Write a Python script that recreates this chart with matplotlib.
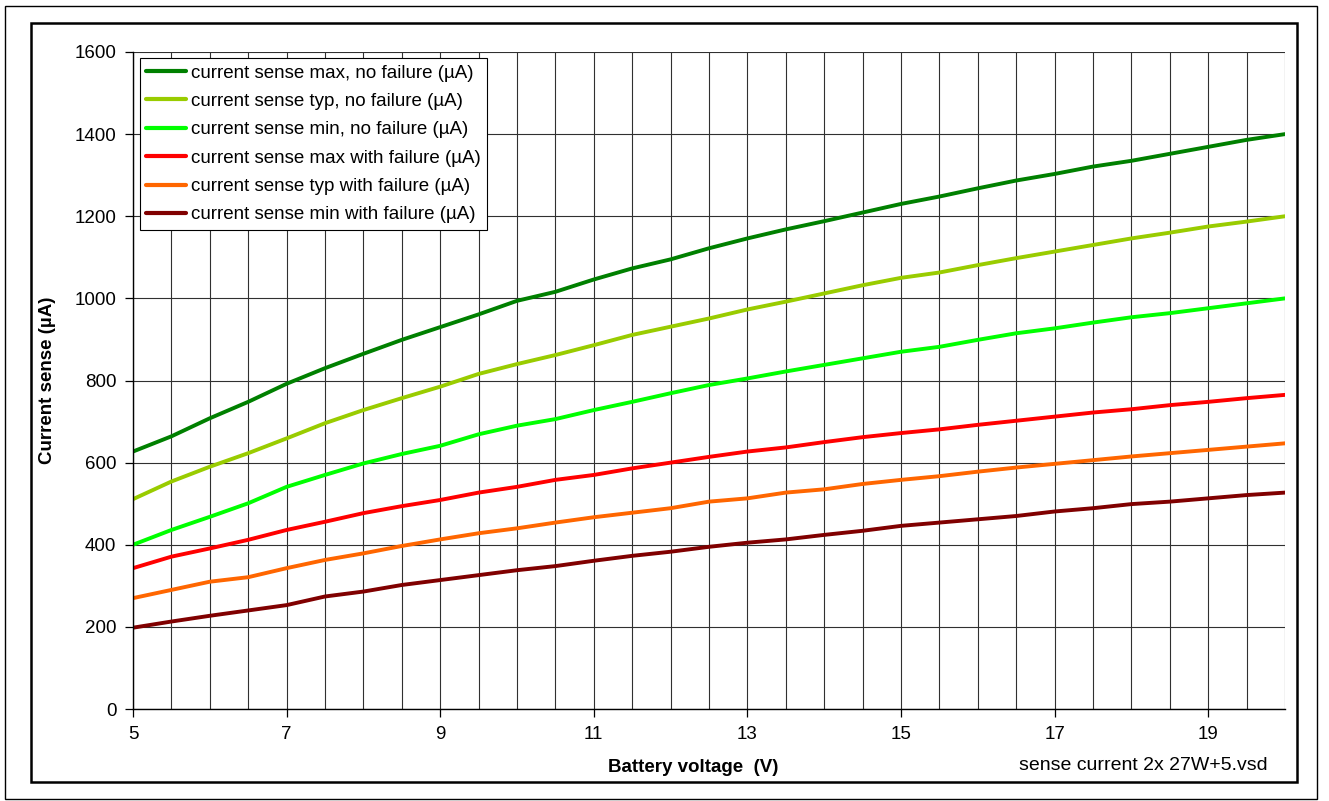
import numpy as np
import matplotlib
matplotlib.use("Agg")
import matplotlib.pyplot as plt
from matplotlib.patches import Rectangle
from matplotlib.ticker import MultipleLocator

plt.rcParams['font.family'] = ['Liberation Sans', 'DejaVu Sans']

# battery voltage (V), 0.5 V steps
volts = np.arange(5.0, 20.01, 0.5)

# current sense (uA)
max_nofail = [627, 664, 708, 748, 792, 830, 865, 899, 930, 961, 994, 1016, 1046, 1073, 1095, 1122,
              1146, 1168, 1188, 1209, 1230, 1248, 1268, 1287, 1303, 1321, 1335, 1352, 1369, 1386, 1400]
typ_nofail = [511, 554, 590, 623, 659, 696, 728, 757, 785, 816, 840, 862, 886, 911, 931, 951,
              973, 992, 1012, 1032, 1050, 1063, 1081, 1098, 1114, 1130, 1146, 1160, 1175, 1187, 1200]
min_nofail = [400, 436, 468, 501, 541, 570, 598, 621, 641, 669, 690, 706, 728, 748, 769, 789,
              805, 822, 838, 854, 870, 882, 899, 915, 927, 941, 954, 964, 976, 988, 1000]
max_fail = [343, 371, 391, 412, 436, 456, 477, 494, 509, 527, 541, 558, 570, 586, 600, 614,
            627, 637, 650, 662, 672, 681, 692, 702, 712, 722, 730, 740, 748, 757, 765]
typ_fail = [270, 290, 310, 321, 343, 363, 379, 397, 413, 428, 440, 454, 467, 478, 489, 505,
            513, 527, 535, 548, 558, 567, 578, 588, 597, 606, 615, 623, 631, 639, 647]
min_fail = [198, 213, 227, 240, 253, 274, 286, 302, 314, 326, 338, 348, 361, 373, 383, 395,
            405, 413, 424, 434, 446, 454, 462, 470, 481, 489, 499, 505, 513, 521, 527]

series = [
    ("current sense max, no failure (\u00b5A)", max_nofail, "#008000"),
    ("current sense typ, no failure (\u00b5A)", typ_nofail, "#99CC00"),
    ("current sense min, no failure (\u00b5A)", min_nofail, "#00FF00"),
    ("current sense max with failure (\u00b5A)", max_fail, "#FF0000"),
    ("current sense typ with failure (\u00b5A)", typ_fail, "#FF6600"),
    ("current sense min with failure (\u00b5A)", min_fail, "#800000"),
]

W, H = 1329, 801
FS = 13.5
fig = plt.figure(figsize=(W / 100, H / 100), dpi=100)

# outer and inner frames (pixel coords -> figure fraction)
def frame(x0, y0, x1, y1, lw):
    fig.patches.append(Rectangle((x0 / W, 1 - y1 / H), (x1 - x0) / W, (y1 - y0) / H,
                                 transform=fig.transFigure, fill=False,
                                 edgecolor="black", linewidth=lw))

frame(5, 6, 1317, 799, 1.0)
frame(31, 23, 1297, 782, 1.8)

ax = fig.add_axes([133 / W, 1 - 709 / H, (1285 - 133) / W, (709 - 52) / H])

for label, vals, col in series:
    ax.plot(volts, vals, color=col, linewidth=2.8, label=label, solid_capstyle="round")

ax.set_xlim(5, 20)
ax.set_ylim(0, 1600)
ax.xaxis.set_minor_locator(MultipleLocator(0.5))
ax.yaxis.set_major_locator(MultipleLocator(200))
ax.set_xticks([5, 7, 9, 11, 13, 15, 17, 19])

ax.grid(True, which="both", axis="x", color="#303030", linewidth=0.8)
ax.grid(True, which="major", axis="y", color="#303030", linewidth=0.8)
ax.set_axisbelow(True)

for s in ["top", "right"]:
    ax.spines[s].set_visible(False)
ax.spines["left"].set_linewidth(1.0)
ax.spines["bottom"].set_linewidth(1.0)

ax.tick_params(axis="both", which="major", direction="out", length=6, width=0.9,
               labelsize=FS, pad=6)
ax.tick_params(axis="x", which="minor", length=0)

ax.set_xlabel("Battery voltage  (V)", fontsize=FS, fontweight="bold")
ax.xaxis.set_label_coords((693 - 133) / 1152, (709 - 759) / 657)
ax.set_ylabel("Current sense (\u00b5A)", fontsize=FS, fontweight="bold")
ax.yaxis.set_label_coords((56 - 133) / 1152, 0.5)

fig.text(1268 / W, 1 - 765 / H, "sense current 2x 27W+5.vsd", ha="right", va="center",
         fontsize=14)

leg = ax.legend(loc="upper left", bbox_to_anchor=(0.006, 0.991), fontsize=FS,
                frameon=True, fancybox=False, framealpha=1, edgecolor="black",
                handlelength=2.1, handletextpad=0.25, labelspacing=0.6,
                borderpad=0.35, borderaxespad=0)
leg.get_frame().set_linewidth(0.8)
for ln in leg.get_lines():
    ln.set_linewidth(3)

fig.savefig("out.png", dpi=100)
